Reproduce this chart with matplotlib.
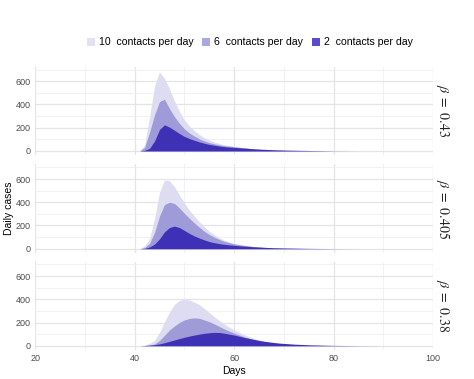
import numpy as np
import matplotlib.pyplot as plt
from matplotlib.patches import Patch
from matplotlib.ticker import MultipleLocator

plt.rcParams['font.family'] = ['Liberation Sans', 'DejaVu Sans']
plt.rcParams['mathtext.fontset'] = 'stix'

days = [40, 41, 42, 43, 44, 45, 46, 47, 48, 49, 50, 51, 52, 53, 54, 55, 56, 57,
        58, 59, 60, 61, 62, 63, 64, 65, 66, 67, 68, 69, 70, 72, 75, 80, 85, 90]

betas = ["0.43", "0.405", "0.38"]
contacts = ["10", "6", "2"]

# beta = 0.43
b043_c10 = [0, 0, 50, 290, 560, 680, 625, 535, 430, 340, 265, 215, 175, 142, 115, 94, 77, 64,
            53, 47, 42, 34, 27, 21, 16, 12, 9, 7, 5, 4, 3, 2, 1, 0, 0, 0]
b043_c6 = [0, 0, 30, 160, 310, 425, 445, 365, 295, 238, 190, 155, 128, 105, 86, 72, 61, 52,
           45, 40, 36, 31, 27, 23, 18, 14, 11, 9, 7, 5, 4, 3, 1, 0, 0, 0]
b043_c2 = [0, 0, 5, 22, 85, 185, 225, 205, 178, 150, 125, 107, 92, 78, 66, 56, 49, 42,
           37, 33, 30, 27, 24, 21, 18, 16, 14, 12, 10, 9, 8, 6, 4, 1, 0, 0]

# beta = 0.405
b0405_c10 = [0, 0, 25, 86, 257, 486, 590, 585, 535, 460, 395, 330, 280, 232, 190, 150, 120, 95,
             74, 58, 45, 35, 27, 21, 16, 12, 9, 7, 5, 4, 3, 2, 1, 0, 0, 0]
b0405_c6 = [0, 0, 10, 45, 140, 280, 380, 400, 390, 350, 305, 262, 222, 185, 150, 122, 100, 80,
            64, 52, 42, 35, 29, 24, 19, 15, 12, 9, 7, 6, 5, 3, 1, 0, 0, 0]
b0405_c2 = [0, 0, 3, 15, 40, 85, 145, 182, 195, 182, 158, 132, 110, 92, 76, 62, 52, 44,
            38, 33, 29, 25, 22, 19, 16, 14, 12, 10, 8, 7, 6, 5, 3, 1, 0, 0]

# beta = 0.38
b038_c10 = [0, 0, 5, 20, 45, 115, 205, 290, 355, 390, 400, 395, 375, 355, 320, 285, 250, 218,
            188, 160, 137, 115, 95, 78, 63, 50, 38, 30, 23, 17, 13, 8, 3, 1, 0, 0]
b038_c6 = [0, 0, 2, 6, 15, 45, 90, 135, 170, 200, 222, 235, 240, 236, 222, 207, 188, 166,
           145, 126, 109, 93, 77, 64, 52, 41, 33, 26, 20, 16, 13, 8, 4, 1, 0, 0]
b038_c2 = [0, 0, 2, 5, 9, 16, 26, 38, 50, 62, 73, 83, 92, 100, 107, 112, 115, 114,
           108, 100, 92, 82, 72, 63, 54, 46, 39, 33, 28, 23, 20, 14, 8, 3, 1, 0]

panels = [
    [b043_c10, b043_c6, b043_c2],
    [b0405_c10, b0405_c6, b0405_c2],
    [b038_c10, b038_c6, b038_c2],
]

fill_colors = ["#dedcf0", "#9e9bd8", "#3f31b5"]
legend_colors = ["#e3e2f3", "#aaa8de", "#5a4bcb"]

fig = plt.figure(figsize=(4.74, 3.79), dpi=100)

left, width, height = 0.074, 0.840, 0.233
bottoms = [0.591, 0.333, 0.077]

for i, (series, beta) in enumerate(zip(panels, betas)):
    ax = fig.add_axes([left, bottoms[i], width, height])
    for vals, col in zip(series, fill_colors):
        ax.fill_between(days, 0, vals, color=col, linewidth=0, zorder=2)
    ax.set_xlim(20, 100)
    ax.set_ylim(-35, 725)
    ax.xaxis.set_major_locator(MultipleLocator(20))
    ax.xaxis.set_minor_locator(MultipleLocator(10))
    ax.yaxis.set_major_locator(MultipleLocator(200))
    ax.yaxis.set_minor_locator(MultipleLocator(100))
    ax.grid(which='major', color='#e4e4e8', linewidth=0.9, zorder=0)
    ax.grid(which='minor', color='#efeff2', linewidth=0.6, zorder=0)
    for s in ax.spines.values():
        s.set_visible(False)
    ax.tick_params(which='both', length=0, labelsize=6.5, labelcolor='#4d4d4d', pad=3)
    if i < 2:
        ax.tick_params(axis='x', labelbottom=False)
    else:
        ax.set_xlabel("Days", fontsize=7.5, labelpad=2)
    if i == 1:
        ax.set_ylabel("Daily cases", fontsize=7.5, labelpad=1.5)
    ax.text(1.024, 0.5, r"$\beta\ =\ $" + r"$" + beta + r"$", transform=ax.transAxes,
            rotation=-90, ha='center', va='center', fontsize=10, color='#222222')

handles = [Patch(facecolor=c, edgecolor='none') for c in legend_colors]
labels = [c + "  contacts per day" for c in contacts]
fig.legend(handles, labels, loc='center', bbox_to_anchor=(0.527, 0.888), ncol=3,
           frameon=False, fontsize=7.6, handlelength=0.75, handleheight=0.8,
           handletextpad=0.4, columnspacing=0.8, borderaxespad=0)

fig.savefig("out.png", dpi=100)
